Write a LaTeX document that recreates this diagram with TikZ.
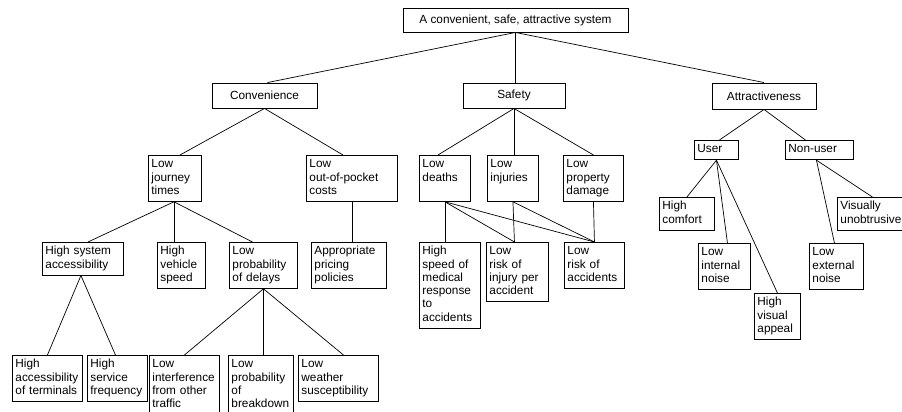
\documentclass[tikz,border=0pt]{standalone}
\usepackage{fontspec}
\setmainfont{Liberation Sans}
\usepackage{tikz}
\usetikzlibrary{positioning}
\newcommand\cellfont{\fontsize{11.8pt}{13.3pt}\selectfont}

\begin{document}
\begin{tikzpicture}[x=1pt, y=-1pt,
  head/.style={draw, line width=0.9pt, font=\cellfont, minimum height=25pt, inner sep=0pt},
  cell/.style={draw, line width=0.9pt, anchor=north west, align=left, font=\cellfont,
    inner xsep=3pt, inner ysep=3pt, text width=#1,
    execute at begin node=\strut, execute at end node=\strut},
  link/.style={line width=0.7pt}]
\useasboundingbox (0,0) rectangle (902,412);
% top and the three aims
\node[head, minimum width=225pt, minimum height=24pt] (goal) at (515.5,20) {A convenient, safe, attractive system};
\node[head, minimum width=105pt] (conv) at (264.5,95.5) {Convenience};
\node[head, minimum width=102pt] (safe) at (514,95.5) {Safety};
\node[head, minimum width=104pt, minimum height=26pt] (attr) at (764,96) {Attractiveness};
% second level
\node[cell=47pt] (ljt) at (148,155) {Low\\journey\\times};
\node[cell=85pt] (oop) at (306,155) {Low\\out-of-pocket\\costs};
\node[cell=45pt] (dth) at (419,155) {Low\\deaths\\\mbox{}};
\node[cell=45pt] (inj) at (487,155) {Low\\injuries\\\mbox{}};
\node[cell=54pt] (prop) at (563,155) {Low\\property\\damage};
\node[cell=38pt] (user) at (694,140) {User};
\node[cell=62pt] (nonu) at (785,140) {Non-user};
% third level
\node[cell=75pt] (hsa) at (42,242) {High system\\accessibility};
\node[cell=42pt] (hvs) at (157,242) {High\\vehicle\\speed};
\node[cell=62pt] (lpd) at (229,242) {Low\\probability\\of delays};
\node[cell=69pt] (app) at (311,242) {Appropriate\\pricing\\policies};
\node[cell=55pt] (hsmr) at (419,242) {High\\speed of\\medical\\response\\to\\accidents};
\node[cell=56pt] (lripa) at (486,242) {Low\\risk of\\injury per\\accident};
\node[cell=54pt] (lra) at (564,242) {Low\\risk of\\accidents};
\node[cell=49pt] (comf) at (659,197) {High\\comfort};
\node[cell=64pt] (vis) at (837,197) {Visually\\unobtrusive};
\node[cell=46pt] (lin) at (698,243) {Low\\internal\\noise};
\node[cell=48pt] (lex) at (809,243) {Low\\external\\noise};
\node[cell=40pt] (hva) at (754,293) {High\\visual\\appeal};
% fourth level
\node[cell=64pt] (hat) at (12,355) {High\\accessibility\\of terminals};
\node[cell=54pt] (hsf) at (87,355) {High\\service\\frequency};
\node[cell=64pt] (lif) at (149,355) {Low\\interference\\from other\\traffic};
\node[cell=59pt] (lpb) at (228,355) {Low\\probability\\of\\breakdown};
\node[cell=74pt] (lws) at (298,355) {Low\\weather\\susceptibility};
% links
\draw[link] (goal.south) -- ([xshift=3pt]conv.north);
\draw[link] (goal.south) -- (goal.south |- safe.north);
\draw[link] (goal.south) -- (attr.north);
\draw[link] (conv.south) -- ([xshift=5pt]ljt.north);
\draw[link] (conv.south) -- ([xshift=-9pt]oop.north);
\draw[link] (safe.south) -- ([xshift=-7pt]dth.north);
\draw[link] (safe.south) -- (safe.south |- inj.north);
\draw[link] (safe.south) -- (prop.north);
\draw[link] (attr.south) -- ([xshift=3pt]user.north);
\draw[link] (attr.south) -- ([xshift=-14pt]nonu.north);
\draw[link] ([xshift=-1pt]ljt.south) -- ([xshift=5pt]hsa.north);
\draw[link] ([xshift=-1pt]ljt.south) -- ([xshift=-1pt]ljt.south |- hvs.north);
\draw[link] ([xshift=-1pt]ljt.south) -- ([xshift=-11pt]lpd.north);
\draw[link] (oop.south) -- (oop.south |- app.north);
\draw[link] ([xshift=-2pt]hsa.south) -- (hat.north);
\draw[link] ([xshift=-2pt]hsa.south) -- ([xshift=-2pt]hsf.north);
\draw[link] (lpd.south) -- (lif.north);
\draw[link] (lpd.south) -- (lpd.south |- lpb.north);
\draw[link] (lpd.south) -- ([xshift=5pt]lws.north);
\draw[link] (dth.south) -- (dth.south |- hsmr.north);
\draw[link] (dth.south) -- ([xshift=-3pt]lripa.north);
\draw[link] (dth.south) -- (lra.north);
\draw[link] (inj.south) -- ([xshift=-3pt]lripa.north);
\draw[link] (inj.south) -- (lra.north);
\draw[link] (prop.south) -- (lra.north);
\draw[link] (user.south) -- (comf.north);
\draw[link] (user.south) -- ([xshift=3pt]lin.north);
\draw[link] (user.south) -- (hva.north);
\draw[link] ([xshift=-3pt]nonu.south) -- (vis.north);
\draw[link] ([xshift=-3pt]nonu.south) -- ([xshift=-2pt]lex.north);
\end{tikzpicture}
\end{document}
